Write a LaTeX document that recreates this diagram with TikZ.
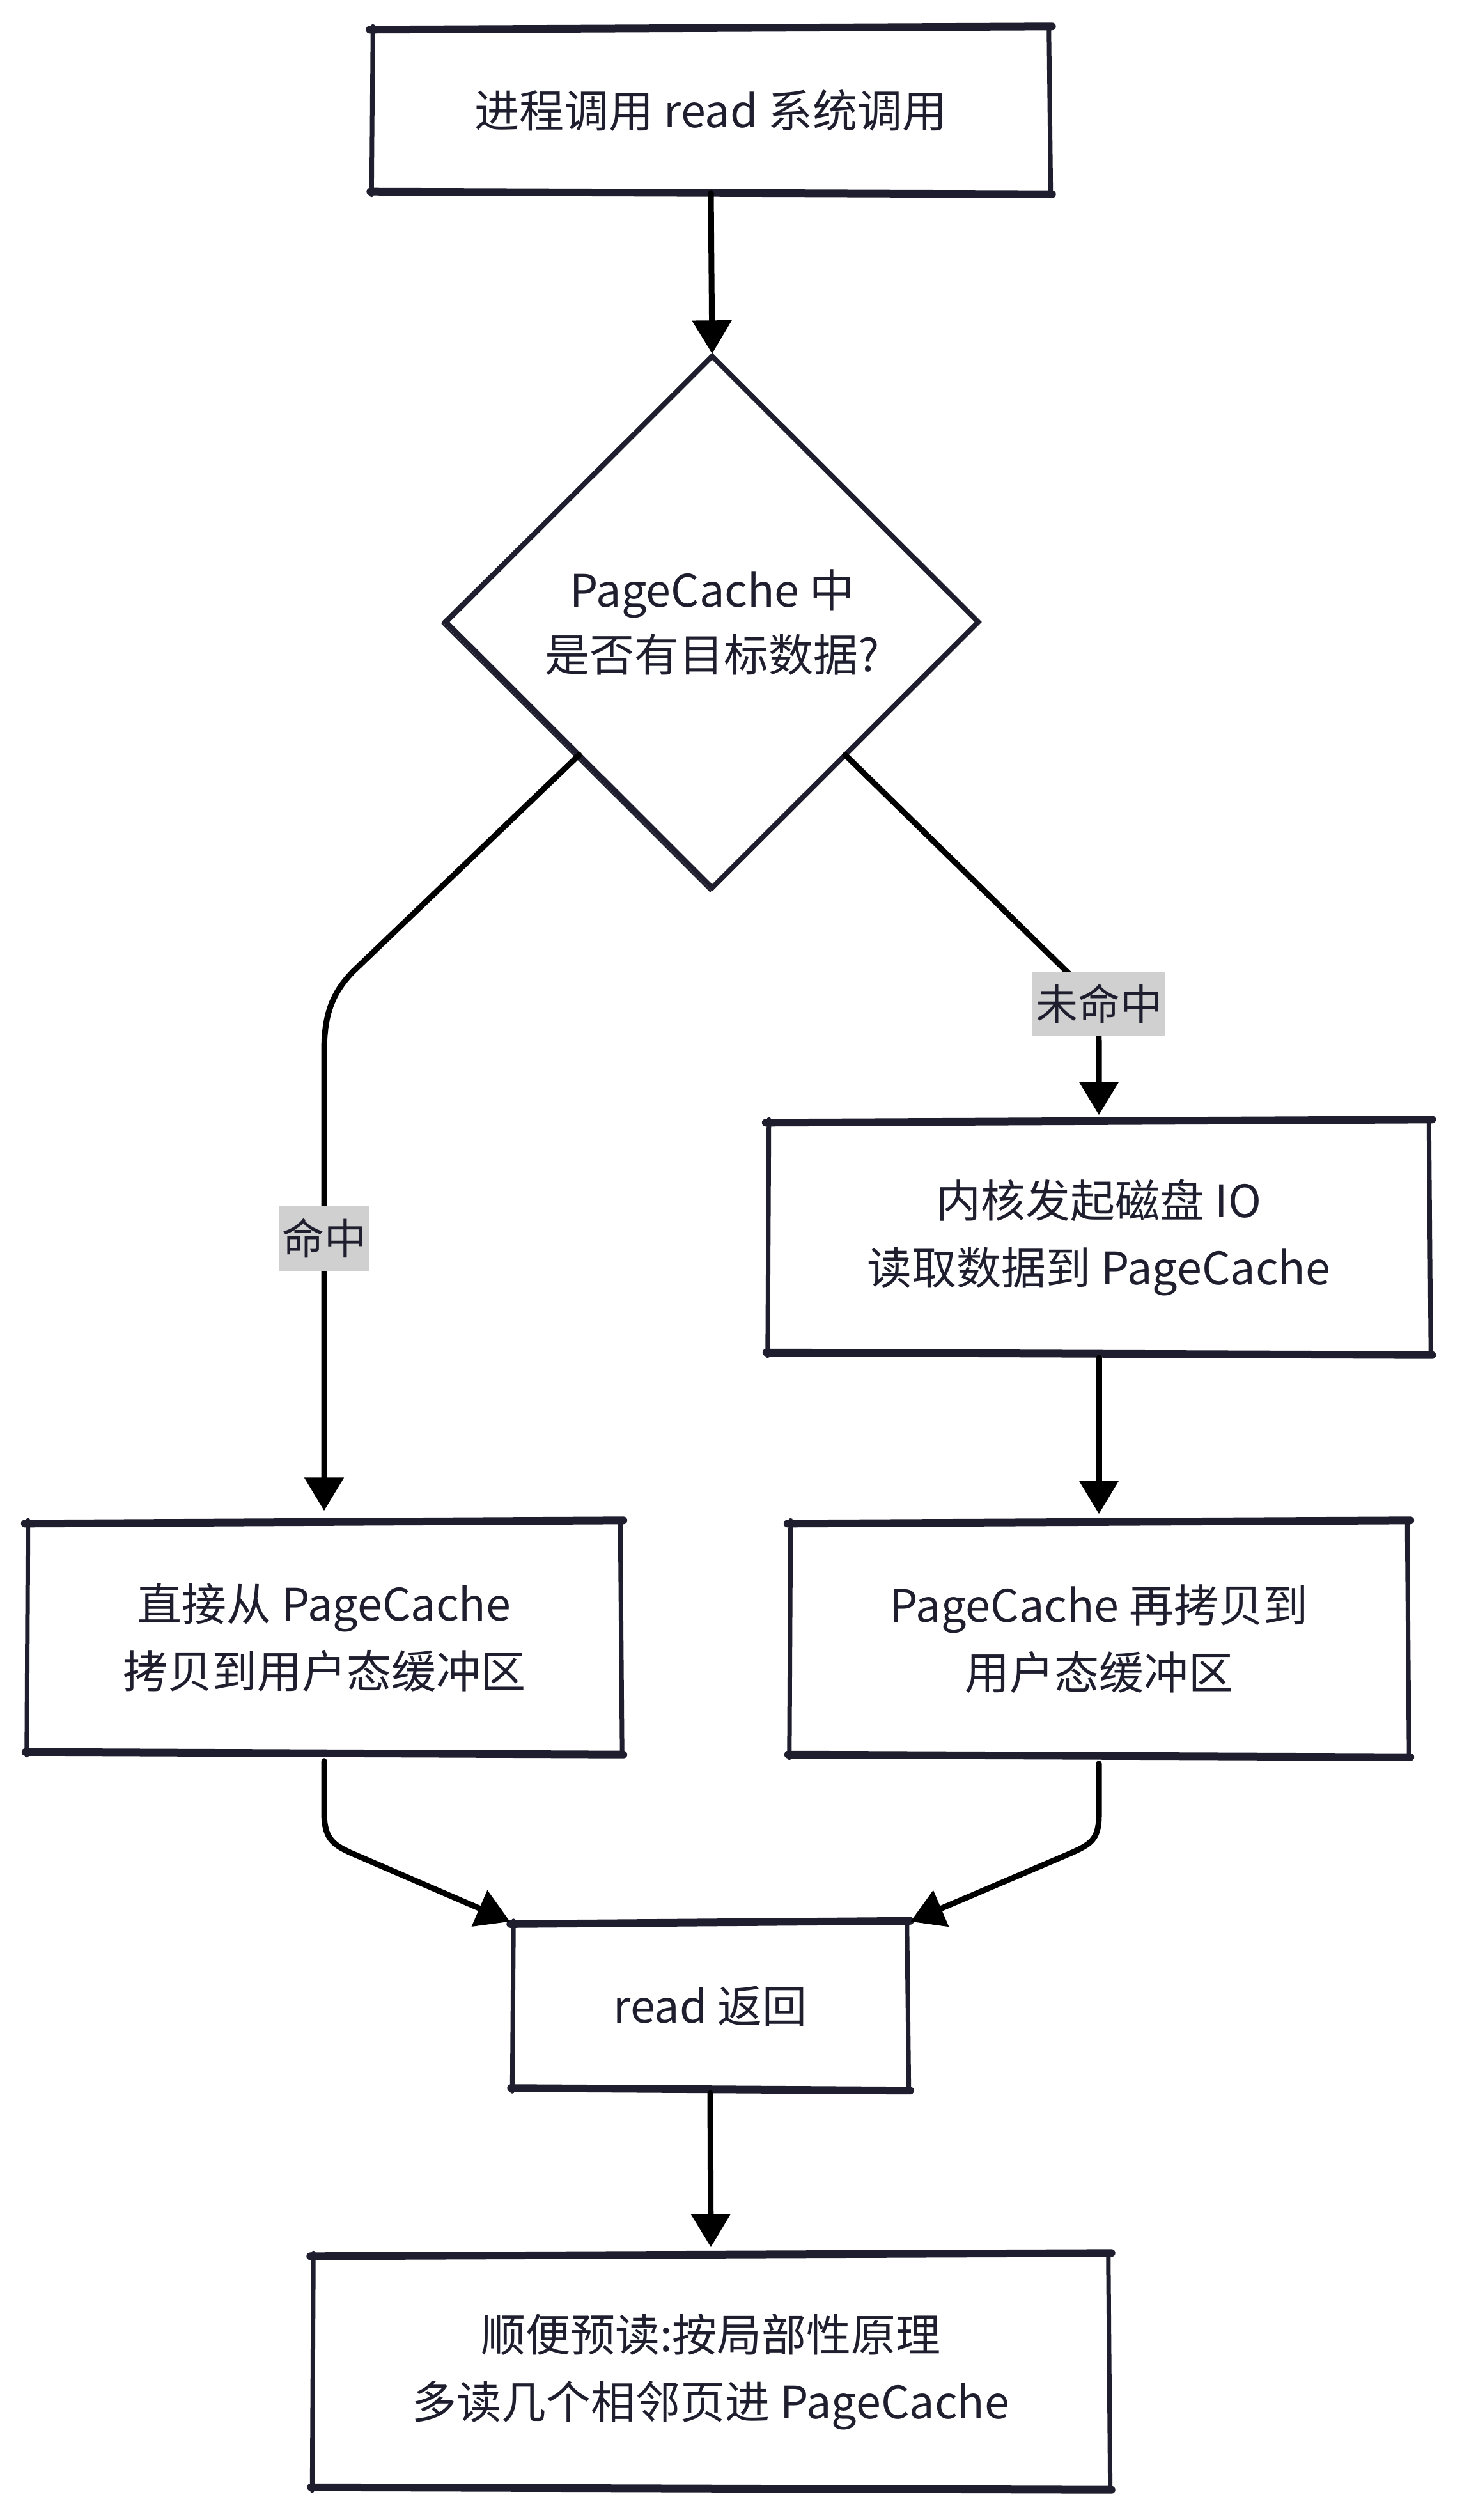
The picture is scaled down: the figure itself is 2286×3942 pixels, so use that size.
\documentclass[tikz,border=0pt]{standalone}
\usepackage{fontspec}
\setmainfont{Noto Sans CJK SC}
\usetikzlibrary{arrows.meta,shapes.geometric}
\definecolor{ink}{HTML}{1E1E2E}
\definecolor{lblgray}{HTML}{D0D0D0}
\tikzset{
  boxnode/.style={draw=none, inner sep=0pt, align=center, text=ink, font=\fontsize{70}{105}\selectfont},
  edgeh/.style={draw=ink, line width=12pt, line cap=round},
  edgev/.style={draw=ink, line width=7pt, line cap=round},
  thinsk/.style={draw=ink, line width=3pt, line cap=round},
  arr/.style={draw=black, line width=9pt, line cap=round, -{Triangle[length=52pt,width=60pt]}},
  lbl/.style={fill=lblgray, text=ink, inner xsep=5pt, inner ysep=0pt, minimum height=101pt, font=\fontsize{66}{80}\selectfont},
}
\newcommand\sketchbox[1]{%
  \draw[edgeh] ([shift={(-4,2)}]#1.north west) -- ([shift={(4,-3)}]#1.north east);
  \draw[edgeh] ([shift={(-3,-2)}]#1.south west) -- ([shift={(4,2)}]#1.south east);
  \draw[edgev] ([shift={(1,-3)}]#1.north west) -- ([shift={(-1,3)}]#1.south west);
  \draw[edgev] ([shift={(-1,-3)}]#1.north east) -- ([shift={(2,3)}]#1.south east);
  \draw[thinsk] ([shift={(-6,-4)}]#1.south west) -- ([shift={(6,5)}]#1.south east);
}
\begin{document}
\begin{tikzpicture}[x=1pt,y=-1pt]
\useasboundingbox[fill=white] (0,0) rectangle (2286,3942);

% nodes
\node[boxnode, minimum width=1059pt, minimum height=257pt] (start) at (1112,173) {进程调用 read 系统调用};
\node[diamond, draw=none, minimum width=832pt, minimum height=831pt, inner sep=0pt, align=center, text=ink,
      font=\fontsize{70}{101}\selectfont] (dec) at (1114,973) {PageCache 中\\是否有目标数据?};
\node[boxnode, minimum width=1034pt, minimum height=363pt] (disk) at (1719,1936) {内核发起磁盘 IO\\读取数据到 PageCache};
\node[boxnode, minimum width=928pt, minimum height=361pt] (hit) at (507,2562) {直接从 PageCache\\拷贝到用户态缓冲区};
\node[boxnode, minimum width=966pt, minimum height=365pt] (cp) at (1719,2564) {PageCache 再拷贝到\\用户态缓冲区};
\node[boxnode, minimum width=617pt, minimum height=260pt] (ret) at (1111,3138) {read 返回};
\node[boxnode, minimum width=1245pt, minimum height=365pt] (pre) at (1112,3710) {顺便预读:按局部性原理\\多读几个相邻页进 PageCache};

% sketchy outlines
\sketchbox{start}
\sketchbox{disk}
\sketchbox{hit}
\sketchbox{cp}
\sketchbox{ret}
\sketchbox{pre}
\draw[draw=ink, line width=8pt, line join=miter] (dec.north) -- (dec.east) -- (dec.south) -- (dec.west) -- cycle;
\draw[thinsk] ([shift={(-5,4)}]dec.north) -- ([shift={(-5,0)}]dec.west);
\draw[thinsk] ([shift={(-6,2)}]dec.west) -- ([shift={(-3,5)}]dec.south);

% connectors
\draw[arr, shorten >=4pt] (start.south) -- (dec.north);
\draw[arr, shorten >=18pt] (dec.south west) -- (552,1520) .. controls (518,1555) and (507,1590) .. (507,1645) -- (hit.north);
\draw[arr, shorten >=10pt] (dec.south east) -- (1672,1523) .. controls (1705,1556) and (1719,1580) .. (1719,1630) -- (disk.north);
\draw[arr, shorten <=6pt, shorten >=13pt] (disk.south) -- (cp.north);
\draw[arr, shorten <=12pt, shorten >=5pt] (hit.south) -- (507,2835) .. controls (507,2875) and (520,2885) .. (548,2898) -- (ret.north west);
\draw[arr, shorten <=12pt, shorten >=5pt] (cp.south) -- (1719,2840) .. controls (1719,2878) and (1705,2885) .. (1677,2898) -- (ret.north east);
\draw[arr, shorten <=6pt, shorten >=12pt] (ret.south) -- (pre.north);

% labels
\node[lbl] (lhit) at (507,1937) {命中};
\node[lbl] (lmiss) at (1719,1570) {未命中};
\end{tikzpicture}
\end{document}
